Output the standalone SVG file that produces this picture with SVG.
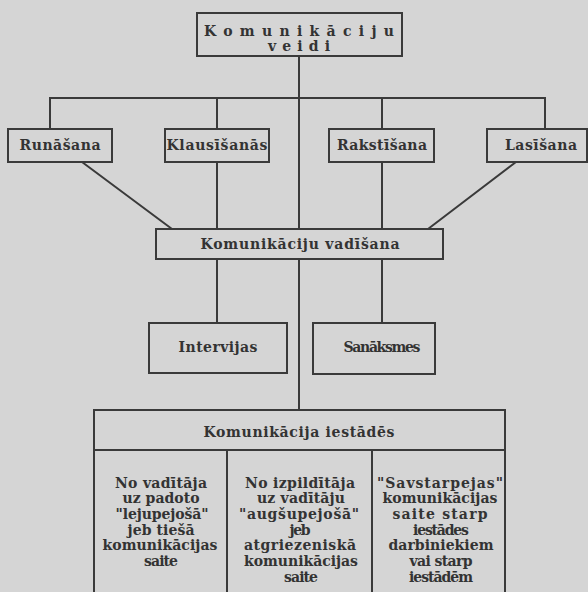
<svg xmlns="http://www.w3.org/2000/svg" width="588" height="592" viewBox="0 0 588 592">
<style>
.bg{fill:#d5d5d5}
.box{fill:none;stroke:#3a3a3a;stroke-width:2}
.ln{fill:none;stroke:#3a3a3a;stroke-width:2}
text{font-family:"DejaVu Serif","Liberation Serif",serif;font-weight:bold;font-size:14px;fill:#333;text-anchor:middle}
.h{font-size:14px}
</style>
<rect class="bg" x="0" y="0" width="588" height="592"/>
<g id="connectors">
<path class="ln" d="M299 56V229M299 259V410"/>
<path class="ln" d="M50 129V98H545V129M217 98V129M382 98V129"/>
<path class="ln" d="M217 162V229M382 162V229M82 162L172 229M516 162L428 229"/>
<path class="ln" d="M217 259V323M382 259V323"/>
</g>
<g id="n-veidi">
<rect class="box" x="197" y="13" width="205" height="43"/>
<text class="h" x="299" y="36" textLength="190" lengthAdjust="spacing">Komunikāciju</text>
<text class="h" x="299" y="51" textLength="62" lengthAdjust="spacing">veidi</text>
</g>
<g id="n-runasana">
<rect class="box" x="8" y="129" width="104" height="33"/>
<text x="60" y="150" textLength="81" lengthAdjust="spacing">Runāšana</text>
</g>
<g id="n-klausisanas">
<rect class="box" x="165" y="129" width="104" height="33"/>
<text x="217" y="150" textLength="101" lengthAdjust="spacing">Klausīšanās</text>
</g>
<g id="n-rakstisana">
<rect class="box" x="329" y="129" width="105" height="33"/>
<text x="382" y="150" textLength="90" lengthAdjust="spacing">Rakstīšana</text>
</g>
<g id="n-lasisana">
<rect class="box" x="487" y="129" width="100" height="33"/>
<text x="541" y="150" textLength="72" lengthAdjust="spacing">Lasīšana</text>
</g>
<g id="n-vadisana">
<rect class="box" x="156" y="229" width="287" height="30"/>
<text x="300" y="249" textLength="199" lengthAdjust="spacing">Komunikāciju vadīšana</text>
</g>
<g id="n-intervijas">
<rect class="box" x="149" y="323" width="138" height="50"/>
<text x="218" y="352" textLength="79" lengthAdjust="spacing">Intervijas</text>
</g>
<g id="n-sanaksmes">
<rect class="box" x="313" y="323" width="122" height="51"/>
<text x="382" y="352" textLength="77" lengthAdjust="spacing">Sanāksmes</text>
</g>
<g id="n-iestades">
<path class="box" d="M94 600V410H505V600M94 450H505M227 450V600M372 450V600"/>
<text x="299" y="437" textLength="191" lengthAdjust="spacing">Komunikācija iestādēs</text>
</g>
<g id="n-lejupejosa">
<text x="161" y="488" textLength="92" lengthAdjust="spacing">No vadītāja</text>
<text x="161" y="503" textLength="77" lengthAdjust="spacing">uz padoto</text>
<text x="162" y="519" textLength="93" lengthAdjust="spacing">"lejupejošā"</text>
<text x="161" y="535" textLength="67" lengthAdjust="spacing">jeb tiešā</text>
<text x="160" y="550" textLength="115" lengthAdjust="spacing">komunikācijas</text>
<text x="161" y="566" textLength="34" lengthAdjust="spacing">saite</text>
</g>
<g id="n-augsupejosa">
<text x="300" y="488" textLength="110" lengthAdjust="spacing">No izpildītāja</text>
<text x="301" y="503" textLength="88" lengthAdjust="spacing">uz vadītāju</text>
<text x="299" y="519" textLength="120" lengthAdjust="spacing">"augšupejošā"</text>
<text x="300" y="535" textLength="21" lengthAdjust="spacing">jeb</text>
<text x="300" y="550" textLength="112" lengthAdjust="spacing">atgriezeniskā</text>
<text x="301" y="566" textLength="114" lengthAdjust="spacing">komunikācijas</text>
<text x="301" y="582" textLength="34" lengthAdjust="spacing">saite</text>
</g>
<g id="n-savstarpejas">
<text x="440" y="488" textLength="126" lengthAdjust="spacing">"Savstarpejas"</text>
<text x="440" y="503" textLength="115" lengthAdjust="spacing">komunikācijas</text>
<text x="440" y="519" textLength="95" lengthAdjust="spacing">saite starp</text>
<text x="441" y="535" textLength="56" lengthAdjust="spacing">iestādes</text>
<text x="441" y="550" textLength="105" lengthAdjust="spacing">darbiniekiem</text>
<text x="441" y="566" textLength="63" lengthAdjust="spacing">vai starp</text>
<text x="441" y="582" textLength="64" lengthAdjust="spacing">iestādēm</text>
</g>
</svg>
